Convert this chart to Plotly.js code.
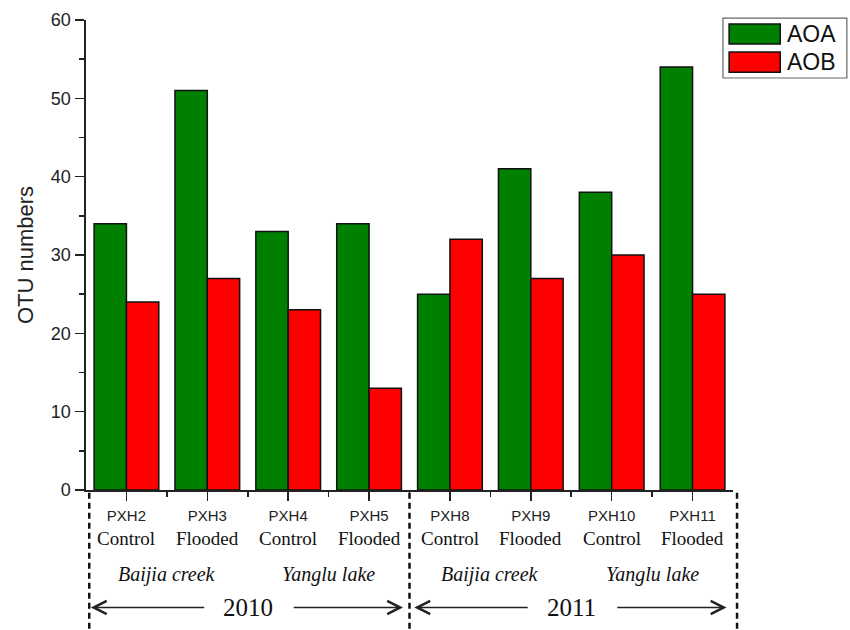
<!DOCTYPE html>
<html>
<head>
<meta charset="utf-8">
<script src="https://cdn.plot.ly/plotly-3.0.1.min.js"></script>
<style>
  html, body { margin: 0; padding: 0; background: #fff; }
  #chart { width: 850px; height: 630px; }
</style>
</head>
<body>
<div id="chart"></div>
<script>
// Sample codes, treatments, sites and years
const samples    = ['PXH2', 'PXH3', 'PXH4', 'PXH5', 'PXH8', 'PXH9', 'PXH10', 'PXH11'];
const treatments = ['Control', 'Flooded', 'Control', 'Flooded', 'Control', 'Flooded', 'Control', 'Flooded'];
const sites      = ['Baijia creek', 'Yanglu lake', 'Baijia creek', 'Yanglu lake'];
const years      = ['2010', '2011'];

// OTU counts per sample
const seriesNames = ['AOA', 'AOB'];
const aoaValues = [34, 51, 33, 34, 25, 41, 38, 54];
const aobValues = [24, 27, 23, 13, 32, 27, 30, 25];

const colors = ['#008000', '#ff0000'];
const xIdx = samples.map((_, i) => i);
const xRange = [-0.5, 7.5];
const serif = '"Liberation Serif", "Times New Roman", serif';
const sans = '"Liberation Sans", Arial, sans-serif';

const traces = [aoaValues, aobValues].map((vals, k) => ({
  type: 'bar',
  name: seriesNames[k],
  x: xIdx,
  y: vals,
  marker: { color: colors[k], line: { color: '#111', width: 1.5 } },
  showlegend: false,
  hoverinfo: 'x+y+name'
}));

const annotations = [];
const shapes = [];

// treatment line under each sample code
treatments.forEach((t, i) => {
  annotations.push({
    xref: 'x', yref: 'paper', x: i, y: -0.103, yanchor: 'middle',
    text: t, showarrow: false, borderpad: 0,
    font: { family: serif, size: 19, color: '#111' }
  });
});

// site names, one per pair of samples
sites.forEach((s, j) => {
  annotations.push({
    xref: 'x', yref: 'paper', x: 2 * j + 0.5, y: -0.179, yanchor: 'middle',
    text: '<i>' + s + '</i>', showarrow: false,
    font: { family: serif, size: 20, color: '#111' }
  });
});

// year spans with arrows and dashed separators
const toPaper = v => (v - xRange[0]) / (xRange[1] - xRange[0]);
const yearY = -0.25;
years.forEach((yr, j) => {
  const start = 4 * j - 0.5, end = start + 4, mid = (start + end) / 2;
  annotations.push({
    xref: 'x', yref: 'paper', x: mid, y: yearY, yanchor: 'middle',
    text: yr, showarrow: false,
    font: { family: serif, size: 25, color: '#111' }
  });
  [[start + 0.06, mid - 0.52], [end - 0.08, mid + 0.55]].forEach(([tip, tail]) => {
    annotations.push({
      xref: 'x', yref: 'paper', x: tip, y: yearY,
      axref: 'x', ayref: 'pixel', ax: tail, ay: 0,
      text: '', showarrow: true, arrowhead: 5, arrowsize: 1.6,
      arrowwidth: 1.6, arrowcolor: '#222', standoff: 0, startstandoff: 0
    });
  });
});
[-0.5, 3.5, 7.5].forEach((b, n) => {
  const off = n === 0 ? 0.04 : (n === 2 ? 0.05 : 0);
  shapes.push({
    type: 'line', xref: 'paper', yref: 'paper',
    x0: toPaper(b + off), x1: toPaper(b + off), y0: -0.006, y1: -0.3,
    line: { color: '#111', width: 2.5, dash: '6px,4px' }
  });
});

// legend box
const L = { x0: 0.9845, x1: 1.176, y0: 0.8766, y1: 1.004 };
shapes.push({
  type: 'rect', xref: 'paper', yref: 'paper',
  x0: L.x0, x1: L.x1, y0: L.y0, y1: L.y1,
  line: { color: '#666', width: 1.2 }, fillcolor: '#fff', layer: 'above'
});
const swatchY = [[0.949, 0.9915], [0.889, 0.932]];
seriesNames.forEach((nm, k) => {
  shapes.push({
    type: 'rect', xref: 'paper', yref: 'paper',
    x0: 0.994, x1: 1.073, y0: swatchY[k][0], y1: swatchY[k][1],
    line: { color: '#111', width: 1.5 }, fillcolor: colors[k], layer: 'above'
  });
  annotations.push({
    xref: 'paper', yref: 'paper', x: 1.081, xanchor: 'left',
    y: (swatchY[k][0] + swatchY[k][1]) / 2, yanchor: 'middle',
    text: nm, showarrow: false,
    font: { family: sans, size: 23, color: '#111' }
  });
});

const layout = {
  width: 850, height: 630,
  margin: { l: 86, r: 117, t: 20, b: 140 },
  paper_bgcolor: '#fff', plot_bgcolor: '#fff',
  barmode: 'group', bargap: 0.2, bargroupgap: 0,
  showlegend: false,
  xaxis: {
    range: xRange, tickmode: 'array', tickvals: xIdx, ticktext: samples,
    showgrid: false, zeroline: false, showline: true,
    linecolor: '#222', linewidth: 1.6,
    ticks: 'outside', ticklen: 9, tickwidth: 1.6, tickcolor: '#222',
    ticklabelstandoff: 2,
    tickfont: { family: sans, size: 15, color: '#222' },
    minor: { tickmode: 'array', tickvals: [0.5, 1.5, 2.5, 3.5, 4.5, 5.5, 6.5],
             ticks: 'outside', ticklen: 5, tickwidth: 1.6, tickcolor: '#222' }
  },
  yaxis: {
    range: [0, 60], tickmode: 'linear', tick0: 0, dtick: 10,
    showgrid: false, zeroline: false, showline: true,
    linecolor: '#222', linewidth: 1.6,
    ticks: 'outside', ticklen: 9, tickwidth: 1.6, tickcolor: '#222',
    ticklabelstandoff: 1,
    tickfont: { family: sans, size: 18, color: '#222' },
    minor: { dtick: 5, ticks: 'outside', ticklen: 5, tickwidth: 1.6, tickcolor: '#222' },
    title: { text: 'OTU numbers', standoff: 11, font: { family: sans, size: 22, color: '#222' } }
  },
  annotations: annotations,
  shapes: shapes
};

Plotly.newPlot('chart', traces, layout, { displayModeBar: false, staticPlot: true });
</script>
</body>
</html>
